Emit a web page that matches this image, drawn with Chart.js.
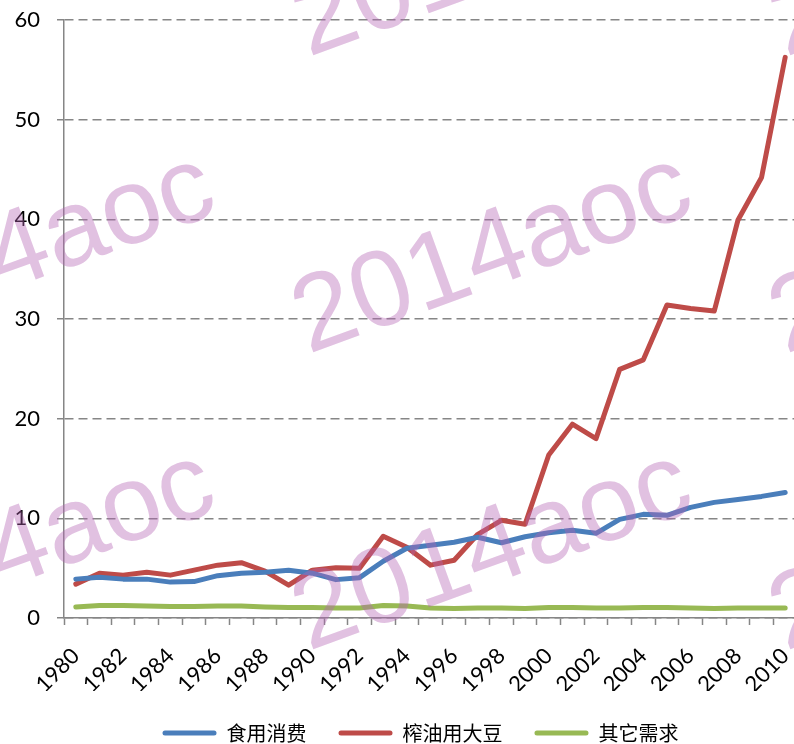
<!DOCTYPE html>
<html>
<head>
<meta charset="utf-8">
<script src="https://cdn.jsdelivr.net/npm/chart.js@4/dist/chart.umd.min.js"></script>
<style>
  html, body { margin: 0; padding: 0; overflow: hidden; background: #fff; }
  canvas { display: block; }
</style>
</head>
<body>
<canvas id="soy" width="830" height="744"></canvas>
<script>
const years = ['1980','1981','1982','1983','1984','1985','1986','1987','1988','1989',
  '1990','1991','1992','1993','1994','1995','1996','1997','1998','1999',
  '2000','2001','2002','2003','2004','2005','2006','2007','2008','2009','2010'];

// 食用消费
const food = [3.9, 4.1, 3.9, 3.9, 3.6, 3.65, 4.25, 4.5, 4.6, 4.8,
  4.5, 3.85, 4.05, 5.7, 7.0, 7.3, 7.6, 8.1, 7.55, 8.15,
  8.55, 8.8, 8.5, 9.9, 10.4, 10.3, 11.1, 11.6, 11.9, 12.2, 12.6];

// 榨油用大豆
const crush = [3.4, 4.5, 4.3, 4.6, 4.3, 4.8, 5.3, 5.55, 4.7, 3.3,
  4.8, 5.05, 5.0, 8.2, 7.1, 5.3, 5.8, 8.4, 9.8, 9.4,
  16.35, 19.45, 18.0, 24.95, 25.9, 31.4, 31.05, 30.8, 39.9, 44.2, 56.25];

// 其它需求
const other = [1.1, 1.25, 1.25, 1.2, 1.15, 1.15, 1.2, 1.2, 1.1, 1.05,
  1.05, 1.0, 1.0, 1.25, 1.2, 1.0, 0.95, 1.0, 1.0, 0.95,
  1.05, 1.05, 1.0, 1.0, 1.05, 1.05, 1.0, 0.95, 1.0, 1.0, 1.0];

const seriesNames = ['食用消费', '榨油用大豆', '其它需求'];
const yMin = 0, yMax = 60, yStep = 10;

const axisGray = '#868686';

const mkSet = (label, data, color) => ({
  label: label,
  data: data,
  borderColor: color,
  backgroundColor: color,
  borderWidth: 5,
  pointRadius: 0,
  tension: 0,
  borderJoinStyle: 'round',
  borderCapStyle: 'round'
});

// light pink "2014aoc" stamp repeated over the picture
const watermark = {
  id: 'watermark',
  afterDraw(chart) {
    const ctx = chart.ctx;
    ctx.save();
    ctx.font = '108px "Liberation Sans", Arial, sans-serif';
    ctx.fillStyle = 'rgba(180,100,180,0.4)';
    for (let i = -2; i <= 2; i++) {
      for (let j = -1; j <= 2; j++) {
        ctx.save();
        ctx.translate(298 + 477 * i, 326 + 297 * j);
        ctx.rotate(-20 * Math.PI / 180);
        ctx.fillText('2014aoc', 0, 0);
        ctx.restore();
      }
    }
    ctx.restore();
  }
};

// the canvas is wider than the window, so nudge the legend back to the middle
const legendShift = {
  id: 'legendShift',
  afterLayout(chart) {
    chart.legend.left += 22;
    chart.legend.right += 22;
  }
};

const ctx = document.getElementById('soy');
const chart = new Chart(ctx, {
  type: 'line',
  data: {
    labels: years,
    datasets: [
      mkSet(seriesNames[0], food, '#4a7ebb'),
      mkSet(seriesNames[1], crush, '#be4b48'),
      mkSet(seriesNames[2], other, '#98b954')
    ]
  },
  options: {
    responsive: false,
    animation: false,
    layout: { padding: { top: 20, left: 0, right: 33, bottom: -9 } },
    plugins: {
      tooltip: { enabled: false },
      legend: {
        position: 'bottom',
        labels: {
          font: { family: '"Noto Sans CJK SC", sans-serif', size: 20 },
          color: '#000',
          boxWidth: 54,
          boxHeight: 5,
          useBorderRadius: true,
          borderRadius: 2.5,
          padding: 32,
          generateLabels: c => Chart.defaults.plugins.legend.labels.generateLabels(c)
            .map(l => Object.assign(l, { lineWidth: 0, fillStyle: l.strokeStyle }))
        }
      }
    },
    scales: {
      x: {
        offset: true,
        afterFit: s => { s.height = 73; s.paddingTop = 0; },
        grid: {
          display: true,
          offset: true,
          drawOnChartArea: false,
          drawTicks: true,
          tickLength: 7,
          tickColor: axisGray,
          tickWidth: 1.5
        },
        border: { color: axisGray, width: 1.5 },
        ticks: {
          autoSkip: false,
          maxRotation: 45,
          minRotation: 45,
          padding: 18,
          color: '#000',
          font: { family: 'Lato, sans-serif', size: 22 },
          callback: (v, i) => (i % 2 === 0 ? years[i] : '')
        }
      },
      y: {
        min: yMin,
        max: yMax,
        afterFit: s => { s.width = 64; s.paddingTop = 0; s.paddingBottom = 0; },
        grid: {
          color: axisGray,
          lineWidth: 1.5,
          tickLength: 7,
          tickColor: axisGray,
          tickBorderDash: [9, 5]
        },
        border: { color: axisGray, width: 1.5, dash: [9, 5] },
        ticks: {
          stepSize: yStep,
          padding: 17,
          color: '#000',
          font: { family: 'Lato, sans-serif', size: 22 }
        }
      }
    }
  },
  plugins: [watermark, legendShift]
});
</script>
</body>
</html>
